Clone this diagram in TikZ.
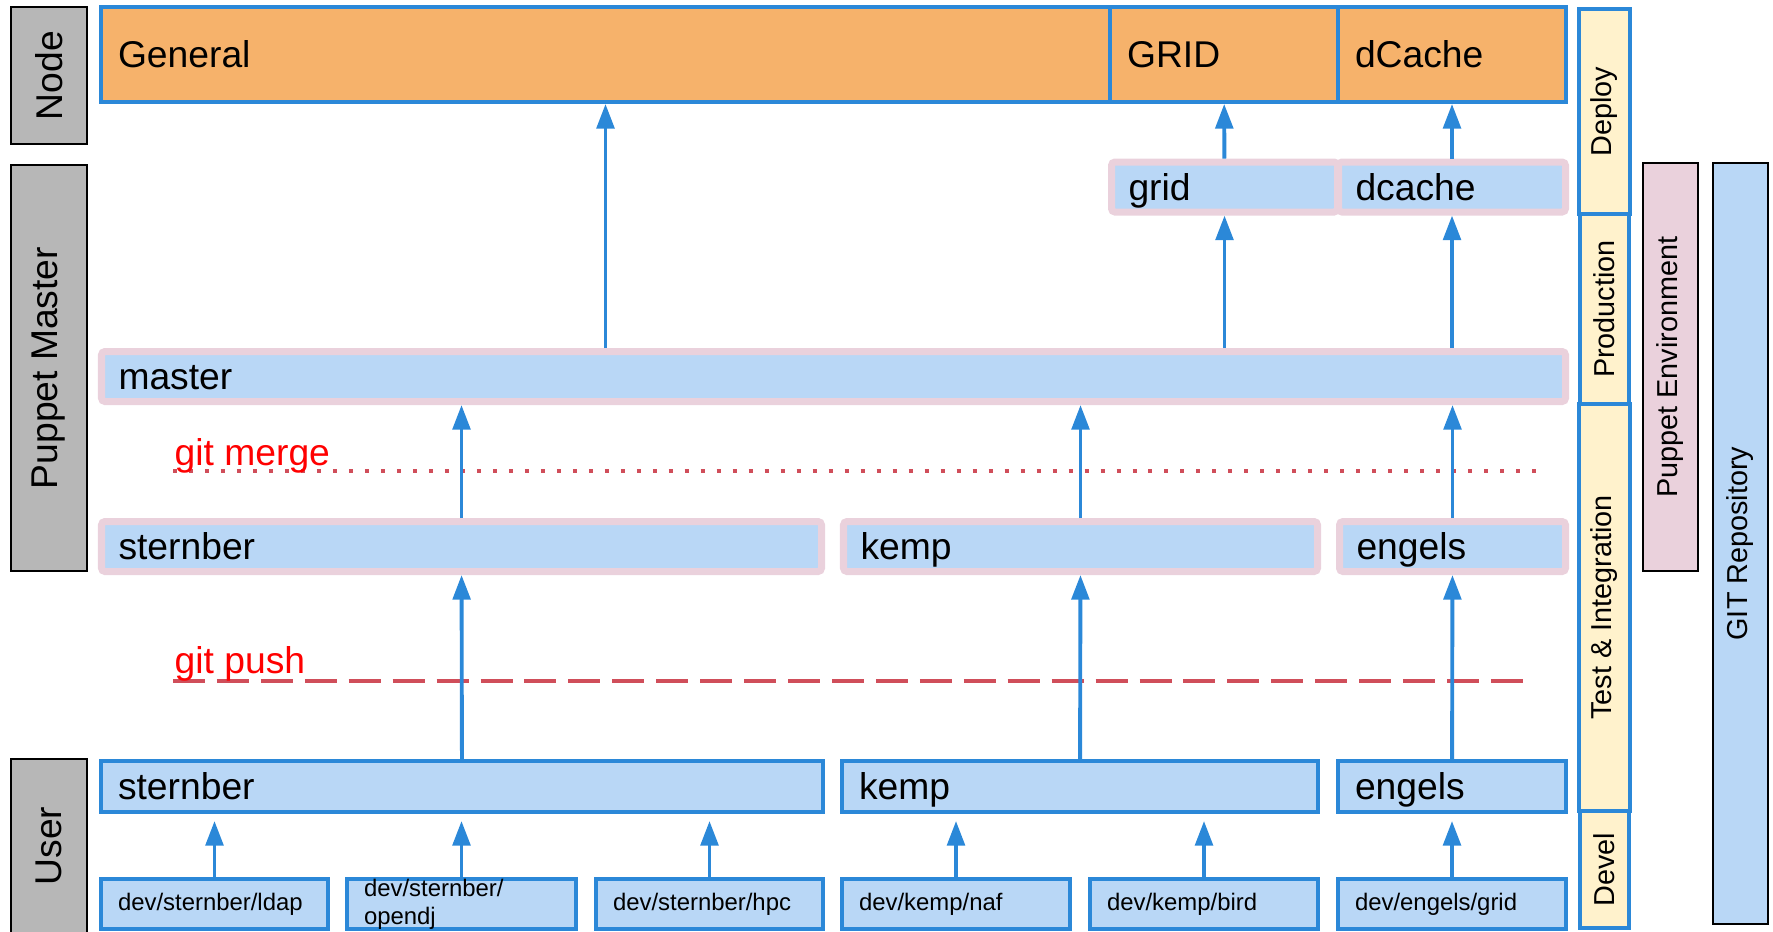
\documentclass[tikz,border=0pt]{standalone}
\usepackage{fontspec}
\setmainfont{Liberation Sans}
\usetikzlibrary{positioning,arrows.meta}

\definecolor{nodeorange}{HTML}{F6B26B}
\definecolor{branchblue}{HTML}{B9D7F6}
\definecolor{lineblue}{HTML}{2B88D8}
\definecolor{envpink}{HTML}{EAD1DC}
\definecolor{stagecream}{HTML}{FFF2CC}
\definecolor{sidegray}{HTML}{B7B7B7}
\definecolor{gitred}{HTML}{D04E5A}

\begin{document}
\begin{tikzpicture}[
    big/.style={font=\fontsize{10.6}{12.7}\selectfont},
    small/.style={font=\fontsize{8.2}{9.8}\selectfont},
    tiny/.style={font=\fontsize{6.8}{8}\selectfont},
    oneline/.style={inner ysep=0pt,text height=8.6pt,text depth=1pt},
    layer/.style={draw=black,line width=0.5pt,fill=sidegray,rotate=90,minimum height=0.76cm,big},
    stage/.style={draw=lineblue,line width=1.1pt,fill=stagecream,rotate=90,minimum height=0.49cm,small},
    scope box/.style={draw=black,line width=0.5pt,rotate=90,minimum height=0.55cm,small},
    deployed/.style={draw=lineblue,line width=1.1pt,fill=nodeorange,minimum height=0.95cm,
        inner xsep=0.17cm,text width=#1-0.34cm,align=left,big,oneline},
    env/.style={draw=envpink,line width=2pt,rounded corners=1pt,fill=branchblue,minimum height=0.50cm,
        inner xsep=0.17cm,text width=#1-0.34cm,align=left,big,oneline},
    branch/.style={draw=lineblue,line width=1.1pt,fill=branchblue,minimum height=0.51cm,
        inner xsep=0.17cm,text width=#1-0.34cm,align=left,big,oneline},
    feature/.style={draw=lineblue,line width=1.1pt,fill=branchblue,minimum height=0.50cm,
        inner xsep=0.17cm,inner ysep=0pt,text width=#1-0.34cm,align=left,tiny},
    flow/.style={lineblue,line width=1.1pt,-{Triangle[length=7pt,width=5pt]}},
    gitlabel/.style={anchor=base west,inner sep=0pt,text=red,big}
  ]
    \useasboundingbox (0,0) rectangle (17.73,-9.31);

    % layers on the left
    \node[layer,minimum width=1.37cm] (nodelayer) at (0.49,-0.755) {Node};
    \node[layer,minimum width=4.06cm] (masterlayer) at (0.49,-3.68) {Puppet Master};
    \node[layer,minimum width=1.74cm] (userlayer) at (0.49,-8.46) {User};

    % deployed node classes
    \node[deployed=10.09cm] (general) at (6.055,-0.545) {General};
    \node[deployed=2.28cm] (GRID) at (12.24,-0.545) {GRID};
    \node[deployed=2.28cm] (dCache) at (14.52,-0.545) {dCache};

    % puppet environments
    \node[env=2.26cm] (grid) at (12.245,-1.87) {grid};
    \node[env=2.27cm] (dcache) at (14.52,-1.87) {dcache};
    \node[env=14.64cm] (master) at (8.335,-3.765) {master};
    \node[env=7.20cm] (sternberenv) at (4.615,-5.465) {sternber};
    \node[env=4.74cm] (kempenv) at (10.805,-5.465) {kemp};
    \node[env=2.26cm] (engelsenv) at (14.525,-5.465) {engels};

    % user branches
    \node[branch=7.22cm] (sternber) at (4.62,-7.865) {sternber};
    \node[branch=4.76cm] (kemp) at (10.80,-7.865) {kemp};
    \node[branch=2.28cm] (engels) at (14.52,-7.865) {engels};

    % feature branches
    \node[feature=2.27cm] (ldap) at (2.145,-9.04) {dev/sternber/ldap};
    \node[feature=2.29cm] (opendj) at (4.615,-9.04) {dev/sternber/\\opendj};
    \node[feature=2.27cm] (hpc) at (7.095,-9.04) {dev/sternber/hpc};
    \node[feature=2.28cm] (naf) at (9.56,-9.04) {dev/kemp/naf};
    \node[feature=2.28cm] (bird) at (12.04,-9.04) {dev/kemp/bird};
    \node[feature=2.28cm] (enggrid) at (14.52,-9.04) {dev/engels/grid};

    % stages and scopes on the right
    \node[stage,minimum width=2.05cm] (deploy) at (16.045,-1.115) {Deploy};
    \node[stage,minimum width=1.90cm] (production) at (16.045,-3.09) {Production};
    \node[stage,minimum width=4.07cm] (testint) at (16.045,-6.075) {Test \& Integration};
    \node[stage,minimum width=1.17cm] (devel) at (16.045,-8.695) {Devel};
    \node[scope box,fill=envpink,minimum width=4.08cm] (puppetenv) at (16.705,-3.67) {Puppet Environment};
    \node[scope box,fill=branchblue,minimum width=7.61cm] (gitrepo) at (17.405,-5.435) {GIT Repository};

    % git merge / git push
    \coordinate (mergeL) at (1.73,-4.71);
    \coordinate (mergeR) at (15.37,-4.71);
    \coordinate (pushL) at (1.73,-6.81);
    \coordinate (pushR) at (15.25,-6.81);
    \draw[gitred,line width=1.14pt,dash pattern=on 1.14pt off 3.41pt] (mergeL) -- (mergeR);
    \draw[gitred,line width=0.95pt,dash pattern=on 9.1pt off 3.4pt] (pushL) -- (pushR);
    \node[gitlabel] (mergelabel) at (1.74,-4.65) {git merge};
    \node[gitlabel] (pushlabel) at (1.74,-6.73) {git push};

    \path[flow] (master.north -| general) edge (general)
                (master.north -| grid) edge (grid)
                (master.north -| dcache) edge (dcache)
                (grid) edge (GRID)
                (dcache) edge (dCache);
    \path[flow] (sternberenv) edge (sternberenv |- master.south)
                (kempenv) edge (kempenv |- master.south)
                (engelsenv) edge (engelsenv |- master.south);
    \path[flow] (sternber) edge (sternberenv)
                (kemp) edge (kempenv)
                (engels) edge (engelsenv);
    \path[flow,shorten >=2pt] (ldap) edge (ldap |- sternber.south)
                              (opendj) edge (opendj |- sternber.south)
                              (hpc) edge (hpc |- sternber.south)
                              (naf) edge (naf |- kemp.south)
                              (bird) edge (bird |- kemp.south)
                              (enggrid) edge (enggrid |- engels.south);
  \end{tikzpicture}
\end{document}
